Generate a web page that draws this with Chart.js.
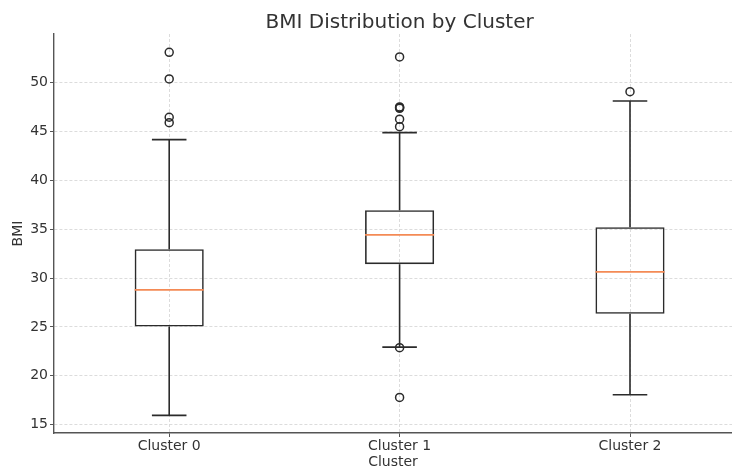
<!DOCTYPE html>
<html>
<head>
<meta charset="utf-8">
<title>BMI Distribution by Cluster</title>
<script src="https://cdn.jsdelivr.net/npm/chart.js@4.4.1/dist/chart.umd.min.js"></script>
<style>
    html, body { margin: 0; padding: 0; background: #ffffff; }
    #wrap { width: 732px; height: 469px; position: relative; }
</style>
</head>
<body>
<div id="wrap"><canvas id="box-chart"></canvas></div>
<script>
// ===== Data =====
const TITLE = 'BMI Distribution by Cluster';
const CLUSTERS = ['Cluster 0', 'Cluster 1', 'Cluster 2'];
const POSITIONS = [1, 2, 3];
const WHISKER_LOW = [15.95, 22.94, 18.07];
const Q1 = [25.05, 31.43, 26.35];
const MEDIAN = [28.8, 34.43, 30.64];
const Q3 = [32.96, 36.95, 35.21];
const WHISKER_HIGH = [44.17, 44.89, 48.13];
const OUTLIERS_0 = [53.11, 50.38, 46.46, 45.9];
const OUTLIERS_1 = [52.63, 47.52, 47.45, 47.38, 46.26, 45.5, 22.88, 17.79];
const OUTLIERS_2 = [49.08];
const Y_TICKS = [15, 20, 25, 30, 35, 40, 45, 50];

const BOX_WIDTH = 0.3;          // in x units, like matplotlib
const CAP_WIDTH = BOX_WIDTH / 2;
const INK = '#2b2b2b';
const TEXT = '#333333';
const FONT = "'DejaVu Sans', sans-serif";

// a point with no y breaks the line between segments
const gap = p => ({ x: p, y: null });

// ----- build datasets from the arrays -----
const boxes = POSITIONS.map((p, i) => ({ x: p, y: [Q1[i], Q3[i]] }));

const whiskers = [];
const caps = [];
const medians = [];
POSITIONS.forEach((p, i) => {
    whiskers.push({ x: p, y: Q1[i] }, { x: p, y: WHISKER_LOW[i] }, gap(p));
    whiskers.push({ x: p, y: Q3[i] }, { x: p, y: WHISKER_HIGH[i] }, gap(p));
    caps.push({ x: p - CAP_WIDTH / 2, y: WHISKER_LOW[i] }, { x: p + CAP_WIDTH / 2, y: WHISKER_LOW[i] }, gap(p));
    caps.push({ x: p - CAP_WIDTH / 2, y: WHISKER_HIGH[i] }, { x: p + CAP_WIDTH / 2, y: WHISKER_HIGH[i] }, gap(p));
    medians.push({ x: p - BOX_WIDTH / 2, y: MEDIAN[i] }, { x: p + BOX_WIDTH / 2, y: MEDIAN[i] }, gap(p));
});

const outliers = []
    .concat(OUTLIERS_0.map(v => ({ x: POSITIONS[0], y: v })))
    .concat(OUTLIERS_1.map(v => ({ x: POSITIONS[1], y: v })))
    .concat(OUTLIERS_2.map(v => ({ x: POSITIONS[2], y: v })));

const lineStyle = (color, width) => ({
    type: 'line',
    borderColor: color,
    borderWidth: width,
    pointRadius: 0,
    spanGaps: false,
    tension: 0,
    fill: false
});

// title centred over the axes (x 0.5 .. 3.5), like matplotlib, not over the canvas
const axesTitle = {
    id: 'axesTitle',
    afterDraw(chart) {
        const ctx = chart.ctx;
        const x = chart.scales.x.getPixelForValue(2);
        ctx.save();
        ctx.font = "20px " + FONT;
        ctx.fillStyle = TEXT;
        ctx.textAlign = 'center';
        ctx.textBaseline = 'alphabetic';
        ctx.fillText(TITLE, x, 28);
        ctx.restore();
    }
};

new Chart(document.getElementById('box-chart'), {
    type: 'bar',
    data: {
        datasets: [
            {
                label: 'box',
                data: boxes,
                backgroundColor: 'rgba(0,0,0,0)',
                borderColor: INK,
                borderWidth: 1.6,
                borderSkipped: false,
                barPercentage: BOX_WIDTH,
                categoryPercentage: 1,
                order: 3
            },
            Object.assign({ label: 'whiskers', data: whiskers, order: 2 }, lineStyle(INK, 1.6)),
            Object.assign({ label: 'caps', data: caps, order: 2 }, lineStyle(INK, 1.6)),
            Object.assign({ label: 'median', data: medians, order: 1 }, lineStyle('#f48a55', 1.8)),
            {
                type: 'scatter',
                label: 'outliers',
                data: outliers,
                pointStyle: 'circle',
                pointRadius: 4,
                pointBorderWidth: 1.5,
                pointBackgroundColor: 'rgba(0,0,0,0)',
                pointBorderColor: INK,
                order: 0
            }
        ]
    },
    plugins: [axesTitle],
    options: {
        responsive: true,
        maintainAspectRatio: false,
        animation: false,
        events: [],
        layout: { padding: { top: 34, left: 0, right: 0, bottom: 0 }, autoPadding: false },
        plugins: {
            legend: { display: false },
            tooltip: { enabled: false },
            title: { display: false }
        },
        scales: {
            x: {
                type: 'linear',
                min: 0.5,
                max: 3.4427,
                offset: false,
                afterBuildTicks: scale => { scale.ticks = POSITIONS.map(v => ({ value: v })); },
                afterFit: scale => { scale.height = 36; },
                ticks: {
                    color: TEXT,
                    font: { family: FONT, size: 14 },
                    padding: 1,
                    maxRotation: 0,
                    autoSkip: false,
                    callback: value => CLUSTERS[POSITIONS.indexOf(value)]
                },
                grid: {
                    offset: false,
                    color: '#d3d3d3',
                    lineWidth: 0.8,
                    tickColor: '#555555',
                    tickLength: 4,
                    tickWidth: 1
                },
                border: { display: true, color: '#555555', width: 1.4, dash: [3, 2] },
                title: {
                    display: true,
                    text: 'Cluster',
                    color: TEXT,
                    font: { family: FONT, size: 14, lineHeight: 1 },
                    padding: { top: 0, bottom: 0 }
                }
            },
            y: {
                type: 'linear',
                min: 14.15,
                max: 54.98,
                afterBuildTicks: scale => { scale.ticks = Y_TICKS.map(v => ({ value: v })); },
                afterFit: scale => { scale.width = 54; },
                ticks: {
                    color: TEXT,
                    font: { family: FONT, size: 14 },
                    padding: 2
                },
                grid: {
                    color: '#d3d3d3',
                    lineWidth: 0.8,
                    tickColor: '#555555',
                    tickLength: 4,
                    tickWidth: 1
                },
                border: { display: true, color: '#555555', width: 1.4, dash: [3, 2] },
                title: {
                    display: true,
                    text: 'BMI',
                    color: TEXT,
                    font: { family: FONT, size: 14, lineHeight: 1 },
                    padding: { top: 11, bottom: 0 }
                }
            }
        }
    }
});
</script>
</body>
</html>
